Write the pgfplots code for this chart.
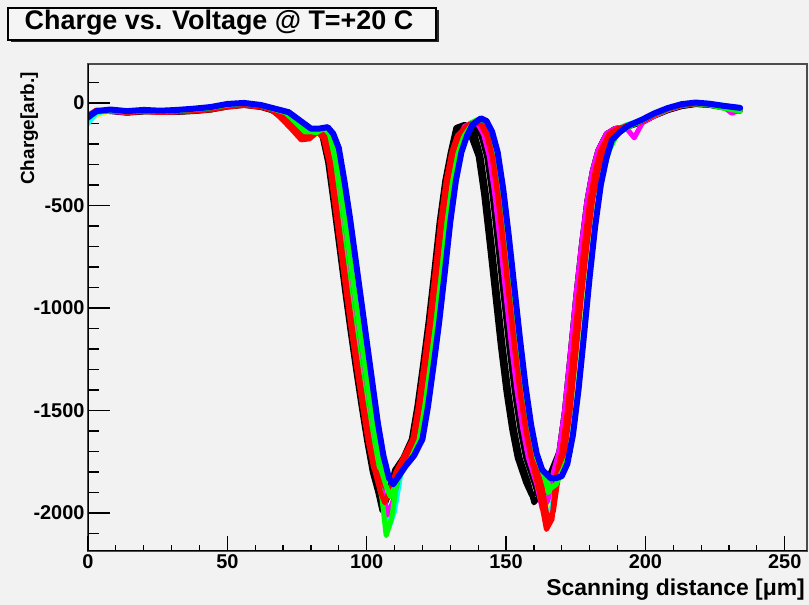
\documentclass[border=0pt]{standalone}
\usepackage{fontspec}
\setmainfont{Liberation Sans}
\usepackage{pgfplots}
\pgfplotsset{compat=1.18}
\definecolor{bg}{RGB}{242,242,242}
\definecolor{rred}{RGB}{255,0,0}
\definecolor{rgreen}{RGB}{0,255,0}
\definecolor{rblue}{RGB}{0,0,255}
\definecolor{ryellow}{RGB}{255,255,0}
\definecolor{rmagenta}{RGB}{255,0,255}
\definecolor{rcyan}{RGB}{0,255,255}
\pgfplotsset{
  rootframe/.style={
    at={(88bp,54bp)}, anchor=south west,
    scale only axis, width=719bp, height=487bp,
    xmin=0, xmax=258, ymin=-2185, ymax=190,
    tick align=inside, xtick pos=left, ytick pos=left,
    tick style={black, line width=1.2bp},
    tick label style={font=\bfseries\fontsize{20}{24}\selectfont},
  }
}
\begin{document}
\begin{tikzpicture}[x=1bp,y=1bp]
\fill[bg] (0,0) rectangle (809,605);
\begin{axis}[
    rootframe,
    axis line style={draw=gray!60!black, line width=1.5bp},
    xtick=\empty,
    ytick={-2000,-1500,-1000,-500,0},
    yticklabels={-2000,-1500,-1000,-500,0},
    minor ytick={-2100,-1900,-1800,-1700,-1600,-1400,-1300,-1200,-1100,-900,-800,-700,-600,-400,-300,-200,-100,100},
    major tick length=22bp, minor tick length=11bp,
    every axis plot/.append style={line width=5bp, line join=round, line cap=round, mark=none},
]
% black curves
\addplot[black] coordinates {(0,-70)(3,-45)(8,-40)(14,-48)(20,-42)(26,-45)(32,-44)(38,-40)(44,-32)(50,-18)(56,-10)(62,-20)(66,-35)
(69,-55)(73,-100)(77,-150)(80,-155)(83,-130)(85,-165)(87,-290)(89,-490)(91,-700)(93,-910)(95,-1110)(97,-1300)(99,-1480)(101,-1650)(103,-1800)(105,-1900)(106.5,-1960)(108.5,-1890)(111,-1790)(114,-1730)(117,-1640)(119,-1480)(121,-1280)(123,-1070)(125,-830)(127,-580)(129,-380)(131,-240)(133,-160)
(134,-120)(137,-110)(139,-115)(141,-160)(143,-260)(145,-450)(147,-690)(149,-940)(151,-1190)(153,-1410)(155,-1590)(157,-1730)(160,-1850)(162,-1940)(165,-1880)(167,-1800)(169,-1700)(171,-1500)(173,-1230)(175,-950)(177,-700)(179,-480)(181,-330)(183,-230)(186,-150)(189,-125)
(193,-115)(199,-90)(203,-62)(208,-35)(213,-15)(218,-5)(223,-8)(228,-20)(234,-35)};
\addplot[black] coordinates {(0,-80)(3,-42)(8,-38)(14,-46)(20,-40)(26,-44)(32,-42)(38,-37)(44,-30)(50,-15)(56,-8)(62,-18)(66,-32)
(68,-55)(72,-100)(76,-150)(79,-158)(82,-130)(84,-165)(86,-290)(88,-490)(90,-700)(92,-910)(94,-1110)(96,-1300)(98,-1480)(100,-1650)(102,-1800)(104,-1900)(105.5,-1990)(107.5,-1920)(110,-1790)(113,-1730)(116,-1640)(118,-1480)(120,-1280)(122,-1070)(124,-830)(126,-580)(128,-380)(130,-240)
(132,-120)(135,-105)(137,-110)(139,-160)(141,-260)(143,-450)(145,-690)(147,-940)(149,-1190)(151,-1410)(153,-1590)(155,-1730)(158,-1850)(160,-1950)(163,-1900)(166,-1800)(169,-1700)(171,-1500)(173,-1230)(175,-950)(177,-700)(179,-480)(181,-330)(183,-230)(186,-150)(189,-125)
(193,-118)(199,-92)(203,-64)(208,-36)(213,-16)(218,-6)(223,-10)(228,-22)(234,-38)};
\addplot[black] coordinates {(0,-65)(3,-38)(8,-42)(14,-50)(20,-44)(26,-40)(32,-46)(38,-42)(44,-35)(50,-20)(56,-12)(62,-22)(66,-38)
(68.5,-60)(72.5,-105)(76.5,-155)(79.5,-160)(82.5,-135)(84.5,-170)(86.5,-290)(88.5,-490)(90.5,-700)(92.5,-910)(94.5,-1110)(96.5,-1300)(98.5,-1480)(100.5,-1650)(102.5,-1800)(104.5,-1900)(106,-1950)(108,-1880)(110.5,-1790)(113.5,-1730)(116.5,-1640)(118.5,-1480)(120.5,-1280)(122.5,-1070)(124.5,-830)(126.5,-580)(128.5,-380)(130.5,-240)(132.5,-160)
(133,-120)(135,-115)(137,-150)(140,-260)(142,-450)(144,-690)(146,-940)(148,-1190)(150,-1410)(152,-1590)(154,-1730)(157,-1850)(159,-1910)(162,-1900)(165,-1860)(168,-1780)(170,-1650)(172,-1450)(174,-1200)(176,-930)(178,-690)(180,-470)(182,-320)(184,-220)(187,-150)(190,-125)
(193,-120)(199,-95)(203,-66)(208,-38)(213,-18)(218,-8)(223,-12)(228,-24)(234,-40)};
% yellow
\addplot[ryellow] coordinates {(0,-85)(3,-60)(8,-38)(14,-42)(20,-35)(26,-40)(32,-38)(38,-33)(44,-26)(50,-10)(56,-4)(62,-14)(66,-28)
(70,-50)(74,-100)(78,-155)(81,-160)(84,-128)(86,-160)(88,-290)(90,-490)(92,-700)(94,-910)(96,-1110)(98,-1300)(100,-1480)(102,-1650)(104,-1800)(106,-1920)(107.5,-2040)(109.5,-1960)(112,-1790)(115,-1730)(118,-1640)(120,-1480)(122,-1280)(124,-1070)(126,-830)(128,-580)(130,-380)(132,-240)(134,-160)
(136,-110)(139,-90)(141,-100)(143,-150)(145,-260)(147,-450)(149,-690)(151,-940)(153,-1190)(155,-1410)(157,-1590)(159,-1730)(162,-1870)(164,-2000)(166,-1960)(168,-1800)(170,-1700)(172,-1500)(174,-1230)(176,-950)(178,-700)(180,-480)(182,-330)(184,-230)(187,-150)(190,-125)
(193,-110)(199,-85)(203,-58)(208,-30)(213,-10)(218,0)(223,-3)(228,-14)(234,-28)};
% cyan
\addplot[rcyan] coordinates {(0,-100)(3,-50)(8,-36)(14,-44)(20,-37)(26,-41)(32,-39)(38,-34)(44,-27)(50,-13)(56,-6)(62,-14)(66,-30)
(70.5,-48)(74.5,-95)(78.5,-145)(81.5,-150)(84.5,-125)(86.5,-160)(88.5,-290)(90.5,-490)(92.5,-700)(94.5,-910)(96.5,-1110)(98.5,-1300)(100.5,-1480)(102.5,-1650)(104.5,-1800)(106.5,-1920)(108,-2070)(110,-1990)(112.5,-1790)(115.5,-1730)(118.5,-1640)(120.5,-1480)(122.5,-1280)(124.5,-1070)(126.5,-830)(128.5,-580)(130.5,-380)(132.5,-240)(134.5,-160)
(136.5,-105)(139.5,-85)(141.5,-95)(143.5,-150)(145.5,-260)(147.5,-450)(149.5,-690)(151.5,-940)(153.5,-1190)(155.5,-1410)(157.5,-1590)(159.5,-1730)(162.5,-1880)(164.5,-2010)(166.5,-1970)(168.5,-1800)(170.5,-1700)(172.5,-1500)(174.5,-1230)(176.5,-950)(178.5,-700)(180.5,-480)(182.5,-330)(184.5,-230)(187.5,-150)(190.5,-125)
(193,-108)(199,-82)(203,-55)(208,-28)(213,-8)(218,2)(223,-2)(228,-12)(234,-25)};
% magenta
\addplot[rmagenta] coordinates {(0,-72)(3,-42)(8,-40)(14,-48)(20,-40)(26,-45)(32,-43)(38,-38)(44,-30)(50,-16)(56,-8)(62,-18)(66,-33)
(70,-52)(74,-98)(78,-150)(81,-155)(84,-128)(86,-162)(88,-290)(90,-490)(92,-700)(94,-910)(96,-1110)(98,-1300)(100,-1480)(102,-1650)(104,-1800)(106,-1910)(107.5,-2010)(109.5,-1940)(112,-1790)(115,-1730)(118,-1640)(120,-1480)(122,-1280)(124,-1070)(126,-830)(128,-580)(130,-380)(132,-240)(134,-160)
(135,-115)(138,-95)(140,-105)(142,-155)(144,-260)(146,-450)(148,-690)(150,-940)(152,-1190)(154,-1410)(156,-1590)(158,-1730)(161,-1860)(163,-1980)(165,-1940)(167,-1800)(169,-1700)(171,-1500)(173,-1230)(175,-950)(177,-700)(179,-480)(181,-330)(183,-230)(186,-150)(189,-125)
(193,-120)(196,-170)(199,-95)(203,-65)(208,-35)(213,-14)(218,-4)(223,-6)(228,-18)(231,-50)(234,-35)};
% green
\addplot[rgreen] coordinates {(0,-78)(3,-40)(8,-34)(14,-42)(20,-36)(26,-40)(32,-36)(38,-30)(44,-22)(50,-8)(56,0)(62,-10)(66,-26)
(69.5,-48)(73.5,-92)(77.5,-142)(80.5,-148)(83.5,-124)(85.5,-158)(87.5,-290)(89.5,-490)(91.5,-700)(93.5,-910)(95.5,-1110)(97.5,-1300)(99.5,-1480)(101.5,-1650)(103.5,-1800)(105.5,-1930)(107,-2110)(109,-2020)(111.5,-1790)(114.5,-1730)(117.5,-1640)(119.5,-1480)(121.5,-1280)(123.5,-1070)(125.5,-830)(127.5,-580)(129.5,-380)(131.5,-240)(133.5,-160)
(137,-100)(140,-80)(142,-90)(144,-145)(146,-260)(148,-450)(150,-690)(152,-940)(154,-1190)(156,-1410)(158,-1590)(160,-1730)(163,-1840)(165,-1900)(167,-1880)(169,-1800)(171,-1700)(173,-1500)(175,-1230)(177,-950)(179,-700)(181,-480)(183,-330)(185,-230)(188,-150)(191,-125)
(193,-110)(199,-88)(203,-62)(208,-32)(213,-12)(218,-4)(223,-10)(228,-25)(234,-40)};
% red
\addplot[rred] coordinates {(0,-60)(3,-35)(8,-38)(14,-46)(20,-42)(26,-46)(32,-44)(38,-40)(44,-34)(50,-20)(56,-12)(62,-20)(66,-36)
(68.5,-65)(72.5,-120)(76.5,-180)(79.5,-175)(82.5,-140)(84.5,-175)(86.5,-290)(88.5,-490)(90.5,-700)(92.5,-910)(94.5,-1110)(96.5,-1300)(98.5,-1480)(100.5,-1650)(102.5,-1780)(104.5,-1820)(106.5,-1870)(108.5,-1880)(110.5,-1800)(113.5,-1720)(116.5,-1640)(118.5,-1480)(120.5,-1280)(122.5,-1070)(124.5,-830)(126.5,-580)(128.5,-380)(130.5,-240)(132.5,-160)
(136,-110)(139,-95)(141,-105)(143,-155)(145,-260)(147,-450)(149,-690)(151,-940)(153,-1190)(155,-1410)(157,-1590)(159,-1730)(162,-1900)(164.5,-2080)(166.5,-2030)(168,-1820)(170,-1700)(172,-1500)(174,-1230)(176,-950)(178,-700)(180,-480)(182,-330)(184,-230)(187,-150)(190,-125)
(193,-115)(199,-90)(203,-60)(208,-30)(213,-12)(218,-2)(223,-4)(228,-14)(234,-26)};
\addplot[rred] coordinates {(0,-66)(3,-38)(8,-36)(14,-44)(20,-40)(26,-43)(32,-41)(38,-36)(44,-29)(50,-14)(56,-6)(62,-16)(66,-32)
(69,-58)(73,-110)(77,-165)(80,-165)(83,-135)(85,-165)(87,-290)(89,-490)(91,-700)(93,-910)(95,-1110)(97,-1300)(99,-1480)(101,-1650)(103,-1800)(105,-1900)(106.5,-1950)(108.5,-1880)(111,-1790)(114,-1730)(117,-1640)(119,-1480)(121,-1280)(123,-1070)(125,-830)(127,-580)(129,-380)(131,-240)(133,-160)
(137,-105)(140,-88)(142,-98)(144,-150)(146,-260)(148,-450)(150,-690)(152,-940)(154,-1190)(156,-1410)(158,-1590)(160,-1730)(163,-1880)(165,-2040)(167,-1990)(169,-1800)(171,-1700)(173,-1500)(175,-1230)(177,-950)(179,-700)(181,-480)(183,-330)(185,-230)(188,-150)(191,-125)
(193,-112)(199,-86)(203,-58)(208,-30)(213,-10)(218,-2)(223,-6)(228,-16)(234,-30)};
% green 2
\addplot[rgreen] coordinates {(0,-70)(3,-44)(8,-37)(14,-43)(20,-37)(26,-41)(32,-37)(38,-32)(44,-24)(50,-10)(56,-2)(62,-12)(66,-28)
(71,-48)(75,-90)(79,-138)(82,-145)(85,-122)(87,-155)(89,-270)(91,-450)(93,-650)(95,-860)(97,-1060)(99,-1250)(101,-1440)(103,-1620)(105,-1780)(107,-1870)(108.5,-1920)(110.5,-1860)(113,-1790)(116,-1730)(119,-1640)(121,-1480)(123,-1280)(125,-1070)(127,-830)(129,-580)(131,-380)(133,-240)(135,-160)
(138,-100)(141,-80)(143,-92)(145,-145)(147,-260)(149,-450)(151,-690)(153,-940)(155,-1190)(157,-1410)(159,-1590)(161,-1730)(164,-1830)(166,-1880)(168,-1860)(170,-1800)(173,-1700)(175,-1500)(177,-1230)(179,-950)(181,-700)(183,-480)(185,-330)(187,-230)(190,-150)(193,-125)
(195,-110)(199,-84)(203,-56)(208,-28)(213,-8)(218,0)(223,-8)(228,-20)(234,-38)};
% blue
\addplot[rblue, line width=6bp] coordinates {(0,-70)(3,-40)(8,-32)(14,-40)(20,-34)(26,-38)(32,-34)(38,-28)(44,-20)(50,-5)(56,0)(62,-10)(66,-24)
(72,-45)(76,-85)(80,-125)(83,-125)(86,-118)(88,-150)(90,-220)(92,-380)(94,-560)(96,-760)(98,-960)(100,-1160)(102,-1360)(104,-1560)(106,-1720)(108,-1830)(109.5,-1860)(111.5,-1820)(114,-1770)(117,-1720)(120,-1640)(122,-1480)(124,-1280)(126,-1070)(128,-830)(130,-580)(132,-380)(134,-240)(136,-160)
(138,-105)(141,-75)(143,-88)(145,-140)(147,-240)(149,-420)(151,-650)(153,-900)(155,-1150)(157,-1380)(159,-1570)(161,-1710)(163,-1790)(166,-1830)(168,-1830)(170,-1820)(172,-1760)(174,-1620)(176,-1400)(178,-1130)(180,-850)(182,-600)(184,-400)(186,-270)(188,-180)(191,-140)
(194,-110)(199,-80)(203,-52)(208,-25)(213,-6)(218,2)(223,-4)(228,-14)(234,-24)};
\draw[black, line width=2bp] (rel axis cs:0,1) -- (rel axis cs:0,0) -- (rel axis cs:1,0);
\end{axis}
% second frame: x ticks with their own lengths
\begin{axis}[
    rootframe,
    hide y axis,
    axis line style={draw=none},
    xtick={0,50,100,150,200,250},
    xticklabels={0,50,100,150,200,250},
    minor xtick={10,20,...,250},
    major tick length=15bp, minor tick length=6bp,
]
\end{axis}
% title box
\fill[black!85] (10.5,562.5) rectangle (438.5,594.5);
\filldraw[fill=white!96!black, draw=black, line width=1.2bp] (8,565) rectangle (436,597);
\node[anchor=base, font=\bfseries\fontsize{27}{31}\selectfont, inner sep=0pt] at (219,575) {Charge vs. Voltage @ T=+20 C};
% axis titles
\node[anchor=base east, font=\bfseries\fontsize{23}{27}\selectfont, inner sep=0pt] at (805,9) {Scanning distance [μm]};
\node[rotate=90, anchor=base east, font=\bfseries\fontsize{19}{23}\selectfont, inner sep=0pt] at (34,533) {Charge[arb.]};
\end{tikzpicture}
\end{document}
